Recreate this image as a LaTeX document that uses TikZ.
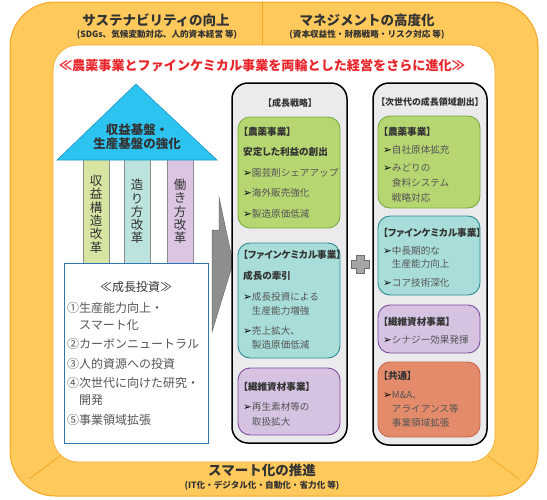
\documentclass[tikz,border=0pt]{standalone}
\usepackage{fontspec}
\setmainfont{Noto Sans CJK JP}
\newfontfamily\jpp{Noto Sans CJK JP}[RawFeature=+palt]
\newfontfamily\dv{DejaVu Sans}
\definecolor{orfill}{HTML}{FFC95B}
\definecolor{orline}{HTML}{F6A623}
\definecolor{redt}{HTML}{E8262C}
\definecolor{tri}{HTML}{2CC3F0}
\definecolor{triline}{HTML}{1E96C8}
\definecolor{pgf}{HTML}{D7E5A2}
\definecolor{ptf}{HTML}{BCE3DD}
\definecolor{ppf}{HTML}{DBC6E2}
\definecolor{pline}{HTML}{8C8C8C}
\definecolor{gbl}{HTML}{2E75B6}
\definecolor{colf}{HTML}{EBEBEE}
\definecolor{gf}{HTML}{B6D672}
\definecolor{gl}{HTML}{78AC40}
\definecolor{tf}{HTML}{A8DDD9}
\definecolor{tl}{HTML}{2B8C90}
\definecolor{pf}{HTML}{D6C3E2}
\definecolor{pl}{HTML}{7E4C9E}
\definecolor{sf}{HTML}{E48B6B}
\definecolor{sl}{HTML}{C86A4A}
\definecolor{arrg}{HTML}{8E8E8E}
\definecolor{arrd}{HTML}{6E6E6E}
\definecolor{hdc}{HTML}{333333}
\definecolor{txc}{HTML}{555555}
\newcommand\arw{{\color{black}\dv\fontsize{10.5}{10}\selectfont ➢}}
\newcommand\ind{\phantom{\dv\fontsize{10.5}{10}\selectfont ➢}}
\newcommand\hd[1]{{\color{hdc}\bfseries\jpp #1}}
\tikzset{
  colbox/.style={draw=black, line width=1.5pt, fill=colf, rounded corners=16pt},
  inbox/.style={line width=0.9pt, rounded corners=12pt},
  pillar/.style={draw=pline, line width=0.5pt},
  vtxt/.style={anchor=north, align=center, inner sep=0, text=hdc, font=\fontsize{12.5}{13.3}\selectfont},
  bodytxt/.style={anchor=north west, align=left, inner sep=0, text=txc},
  ttl/.style={text=hdc, font=\bfseries\fontsize{13.5}{14}\selectfont, inner sep=0},
  sub/.style={text=hdc, font=\bfseries\fontsize{8.6}{9}\selectfont, inner sep=0},
}
\begin{document}
\begin{tikzpicture}[x=1pt,y=-1pt]
\useasboundingbox (0,0) rectangle (547,499);
% outer frame
\draw[fill=orfill, draw=orline, line width=1pt, rounded corners=45pt] (10,2) rectangle (538,496);
\draw[orline, line width=0.8pt] (262,2) -- (262,45);
\draw[orline, line width=0.8pt] (60,456) -- (29,479);
\draw[orline, line width=0.8pt] (488,456) -- (519,479);
\draw[fill=white, draw=orline, line width=0.6pt, rounded corners=25pt] (53,45) rectangle (495,462);
% frame texts
\node[ttl] (t1) at (156,20) {サステナビリティの向上};
\node[sub] (s1) at (157,35) {(SDGs、気候変動対応、人的資本経営 等)};
\node[ttl] (t2) at (367,20) {マネジメントの高度化};
\node[sub] (s2) at (367,35) {(資本収益性・財務戦略・リスク対応 等)};
\node[ttl] (t3) at (262,470) {スマート化の推進};
\node[sub] (s3) at (262,486) {(IT化・デジタル化・自動化・省力化 等)};
\node[text=redt, font=\bfseries\fontsize{13.1}{14}\selectfont, inner sep=0] (head) at (262,66) {≪農薬事業とファインケミカル事業を両輪とした経営をさらに進化≫};
% pillars
\draw[pillar, fill=pgf] (83,158) rectangle (109,263);
\draw[pillar, fill=ptf] (124,158) rectangle (150,263);
\draw[pillar, fill=ppf] (167,158) rectangle (193,263);
\node[vtxt] (v1) at (96,175) {収\\益\\構\\造\\改\\革};
\node[vtxt] (v2) at (137,179) {造\\り\\方\\改\\革};
\node[vtxt] (v3) at (180,179) {働\\き\\方\\改\\革};
% roof
\draw[fill=tri, draw=triline, line width=0.6pt] (57,160) -- (136,84) -- (217,160) -- cycle;
\node[align=center, inner sep=0, text=hdc, font=\bfseries\fontsize{12.5}{13.5}\selectfont] (roof) at (137,137) {収益基盤・\\生産基盤の強化};
% growth investment box
\draw[draw=gbl, line width=1pt, fill=white] (64,263) rectangle (208,443);
\node[inner sep=0, text=hdc, font=\fontsize{12}{13}\selectfont] (gi) at (136,287) {≪成長投資≫};
\node[bodytxt, font=\fontsize{12}{19.5}\selectfont] (gil) at (67,302) {①生産能力向上・\\[-2.5pt]\phantom{①}スマート化\\ ②カーボンニュートラル\\ ③人的資源への投資\\ ④次世代に向けた研究・\\[-2.5pt]\phantom{①}開発\\ ⑤事業領域拡張};
% arrow
\draw[fill=arrg, draw=arrd, line width=0.5pt] (219,197) -- (233,263) -- (212,332) -- (212,230) -- (219,230) -- cycle;
% plus
\draw[fill=arrg!80, draw=arrd, line width=0.5pt] (356,255) -- (364,255) -- (364,260) -- (369,260) -- (369,268) -- (364,268) -- (364,273) -- (356,273) -- (356,268) -- (351,268) -- (351,260) -- (356,260) -- cycle;
% middle column
\draw[colbox] (232,83) rectangle (347,443);
\node[inner sep=0, font=\fontsize{9}{10}\selectfont] (c1t) at (290,103) {\hd{【成長戦略】}};
\draw[inbox, draw=gl, fill=gf] (238,117) rectangle (340,228);
\node[bodytxt, font=\fontsize{9.6}{20.5}\selectfont] (c1g) at (243,127) {\hd{【農薬事業】}\\ \hd{安定した利益の創出}\\ \arw 園芸剤シェアアップ\\ \arw 海外販売強化\\ \arw 製造原価低減};
\draw[inbox, draw=tl, fill=tf] (238,243) rectangle (340,358);
\node[bodytxt, font=\fontsize{9.6}{20.5}\selectfont] (c1f) at (243,250) {\hd{【ファインケミカル事業】}\\[1pt] \hd{成長の牽引}\\ \arw 成長投資による\\[-6.5pt] \ind 生産能力増強\\ \arw 売上拡大、\\[-7pt] \ind 製造原価低減};
\draw[inbox, draw=pl, fill=pf] (238,368) rectangle (340,435);
\node[bodytxt, font=\fontsize{9.6}{20}\selectfont] (c1p) at (243,382) {\hd{【繊維資材事業】}\\ \arw 再生素材等の\\[-5pt] \ind 取扱拡大};
% right column
\draw[colbox] (373,83) rectangle (487,445);
\node[inner sep=0, font=\fontsize{9}{10}\selectfont] (c2t) at (430,102) {\hd{【次世代の成長領域創出】}};
\draw[inbox, draw=gl, fill=gf] (378,116) rectangle (480,208);
\node[bodytxt, font=\fontsize{9.6}{18}\selectfont] (c2g) at (383,127) {\hd{【農薬事業】}\\ \arw 自社原体拡充\\ \arw みどりの\\[-3pt] \ind 食料システム\\[-3pt] \ind 戦略対応};
\draw[inbox, draw=tl, fill=tf] (378,216) rectangle (480,295);
\node[bodytxt, font=\fontsize{9.6}{18.5}\selectfont] (c2f) at (383,228) {\hd{【ファインケミカル事業】}\\ \arw 中長期的な\\[-5.5pt] \ind 生産能力向上\\ \arw コア技術深化};
\draw[inbox, draw=pl, fill=pf] (378,305) rectangle (480,353);
\node[bodytxt, font=\fontsize{9.6}{18}\selectfont] (c2p) at (383,317) {\hd{【繊維資材事業】}\\ \arw シナジー効果発揮};
\draw[inbox, draw=sl, fill=sf] (378,362) rectangle (480,437);
\node[bodytxt, font=\fontsize{9.6}{19}\selectfont] (c2s) at (383,371) {\hd{【共通】}\\ \arw M\&A、\\[-5pt] \ind アライアンス等\\[-4.5pt] \ind 事業領域拡張};
\end{tikzpicture}
\end{document}
